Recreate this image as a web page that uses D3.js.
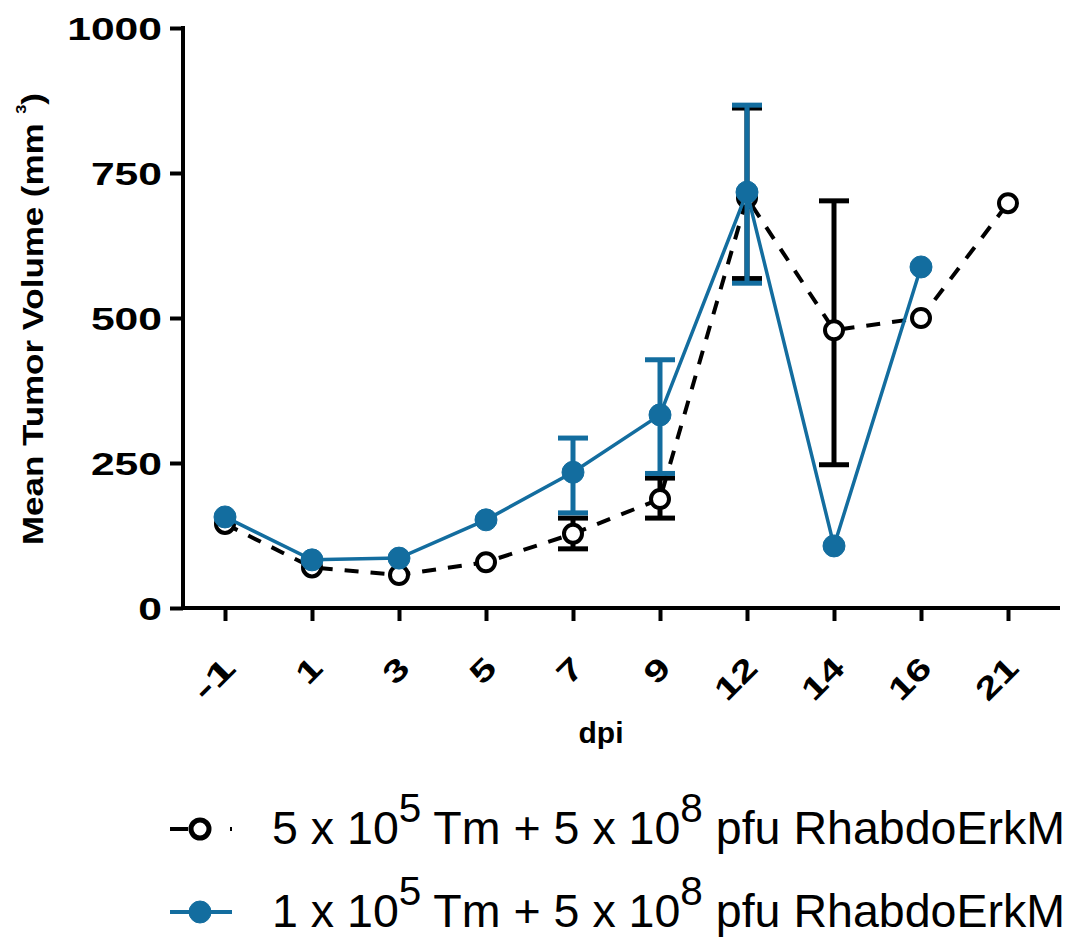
<!DOCTYPE html>
<html>
<head>
<meta charset="utf-8">
<script src="https://cdn.jsdelivr.net/npm/d3@7"></script>
<style>
  body { margin: 0; background: #fff; }
  text { font-family: "Liberation Sans", Arial, sans-serif; }
</style>
</head>
<body>
<div id="chart"></div>
<script>
// dpi categories (x axis)
const days = ["-1", "1", "3", "5", "7", "9", "12", "14", "16", "21"];
const yTicks = [0, 250, 500, 750, 1000];

// 5 x 10^5 Tm + 5 x 10^8 pfu (black, open circles, dashed)
const blackMean = [145, 70, 57, 79, 128, 188, 707, 479, 500, 698];
const blackLow  = [null, null, null, null, 102, 155, 568, 247, null, null];
const blackHigh = [null, null, null, null, 155, 224, 862, 702, null, null];

// 1 x 10^5 Tm + 5 x 10^8 pfu (blue, filled circles, solid)
const blueMean = [157, 83, 86, 152, 234, 333, 717, 107, 588, null];
const blueLow  = [null, null, null, null, 164, 232, 560, null, null, null];
const blueHigh = [null, null, null, null, 293, 428, 867, null, null, null];

const blue = "#136d9f";

const svg = d3.select("#chart")
    .append("svg")
    .attr("width", 1070)
    .attr("height", 939);

// scales
const x = d3.scalePoint()
    .domain(days)
    .range([225, 1008]);

const y = d3.scaleLinear()
    .domain([0, 1000])
    .range([608, 28]);

// y axis
const yAxis = svg.append("g")
    .attr("transform", "translate(183,0)")
    .call(d3.axisLeft(y).tickValues(yTicks).tickFormat(d3.format("d"))
        .tickSize(13).tickSizeOuter(0).tickPadding(8));
yAxis.select(".domain").attr("stroke-width", 4).attr("d", "M0,26V610");
yAxis.selectAll(".tick line").attr("stroke-width", 4);
yAxis.selectAll(".tick text")
    .style("font-size", "32px")
    .style("font-weight", "bold")
    .attr("fill", "#000")
    .attr("dy", "0.36em")
    .attr("textLength", d => String(d).length * 23.7)
    .attr("lengthAdjust", "spacingAndGlyphs");

// x axis
const xAxis = svg.append("g")
    .attr("transform", "translate(0,608)")
    .call(d3.axisBottom(x).tickSize(13).tickSizeOuter(0));
xAxis.select(".domain").attr("stroke-width", 4).attr("d", "M181,0H1060");
xAxis.selectAll(".tick line").attr("stroke-width", 4);
xAxis.selectAll(".tick text")
    .style("font-size", "31px")
    .style("font-weight", "bold")
    .attr("fill", "#000")
    .attr("text-anchor", "end")
    .attr("dy", 0)
    .attr("y", 0)
    .attr("textLength", d => d.length * 23)
    .attr("lengthAdjust", "spacingAndGlyphs")
    .attr("transform", "translate(12,62) rotate(-45)");

// axis titles
svg.append("text")
    .attr("x", 601)
    .attr("y", 743)
    .attr("text-anchor", "middle")
    .style("font-size", "30px")
    .style("font-weight", "bold")
    .text("dpi");

const yTitle = svg.append("text")
    .attr("transform", "translate(43,545) rotate(-90)")
    .attr("text-anchor", "start")
    .attr("textLength", 452)
    .attr("lengthAdjust", "spacingAndGlyphs")
    .style("font-size", "30px")
    .style("font-weight", "bold");
yTitle.append("tspan").text("Mean Tumor Volume (mm  ");
yTitle.append("tspan").attr("dy", -17).style("font-size", "14px").text("3");
yTitle.append("tspan").attr("dy", 17).text(")");

// series drawing helper
function drawSeries(mean, low, high, color, dashed, filled) {
    const pts = days.map((d, i) => ({ d, m: mean[i], lo: low[i], hi: high[i] }))
        .filter(p => p.m !== null);

    const line = d3.line().x(p => x(p.d)).y(p => y(p.m));
    svg.append("path")
        .datum(pts)
        .attr("fill", "none")
        .attr("stroke", color)
        .attr("stroke-width", dashed ? 4 : 3.5)
        .attr("stroke-dasharray", dashed ? "14,12" : null)
        .attr("d", line);

    const eb = pts.filter(p => p.lo !== null);
    const g = svg.append("g").attr("stroke", color).attr("stroke-width", 5);
    g.selectAll(".v").data(eb).enter().append("line")
        .attr("x1", p => x(p.d)).attr("x2", p => x(p.d))
        .attr("y1", p => y(p.lo)).attr("y2", p => y(p.hi));
    g.selectAll(".c1").data(eb).enter().append("line")
        .attr("x1", p => x(p.d) - 15).attr("x2", p => x(p.d) + 15)
        .attr("y1", p => y(p.lo)).attr("y2", p => y(p.lo));
    g.selectAll(".c2").data(eb).enter().append("line")
        .attr("x1", p => x(p.d) - 15).attr("x2", p => x(p.d) + 15)
        .attr("y1", p => y(p.hi)).attr("y2", p => y(p.hi));

    svg.append("g").selectAll("circle").data(pts).enter().append("circle")
        .attr("cx", p => x(p.d))
        .attr("cy", p => y(p.m))
        .attr("r", filled ? 11 : 9)
        .attr("fill", filled ? color : "#fff")
        .attr("stroke", color)
        .attr("stroke-width", filled ? 1 : 4);
}

drawSeries(blackMean, blackLow, blackHigh, "#000", true, false);
drawSeries(blueMean, blueLow, blueHigh, blue, false, true);

// legend
const legend = [
    { a: "5", color: "#000", dashed: true, filled: false, y: 829 },
    { a: "1", color: blue, dashed: false, filled: true, y: 912 }
];
legend.forEach(l => {
    svg.append("line")
        .attr("x1", 170).attr("x2", 232)
        .attr("y1", l.y).attr("y2", l.y)
        .attr("stroke", l.color)
        .attr("stroke-width", 4)
        .attr("stroke-dasharray", l.dashed ? "18,8,4,30" : null);
    svg.append("circle")
        .attr("cx", 200).attr("cy", l.y)
        .attr("r", l.filled ? 11 : 9)
        .attr("fill", l.filled ? l.color : "#fff")
        .attr("stroke", l.color)
        .attr("stroke-width", l.filled ? 1 : 5);
    const t = svg.append("text")
        .attr("x", 272).attr("y", l.y + 15)
        .attr("textLength", 793)
        .attr("lengthAdjust", "spacingAndGlyphs")
        .style("font-size", "46px");
    t.append("tspan").text(l.a + " x 10");
    t.append("tspan").attr("dy", -22).style("font-size", "40px").text("5");
    t.append("tspan").attr("dy", 22).text(" Tm + 5 x 10");
    t.append("tspan").attr("dy", -22).style("font-size", "40px").text("8");
    t.append("tspan").attr("dy", 22).text(" pfu RhabdoErkM");
});
</script>
</body>
</html>
